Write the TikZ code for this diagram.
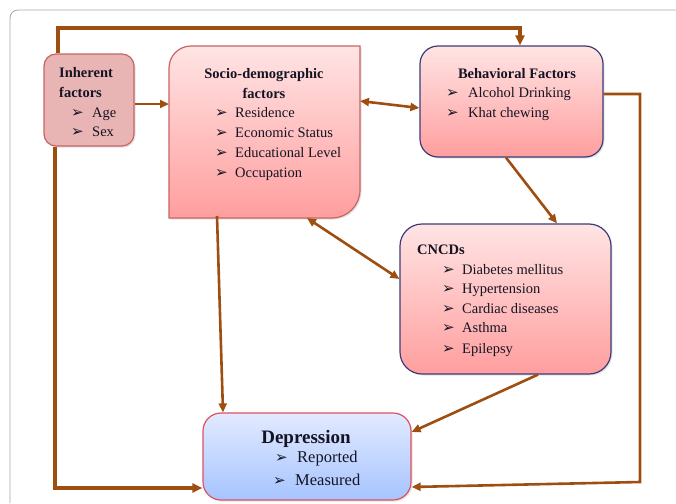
\documentclass[tikz,border=0pt]{standalone}
\usepackage{fontspec}
\setmainfont{Liberation Serif}
\newfontfamily\symf{DejaVu Sans}
\usetikzlibrary{arrows.meta,shadows}
\definecolor{brn}{RGB}{158,78,16}
\definecolor{navy}{RGB}{60,60,120}
\definecolor{redb}{RGB}{224,80,96}
\definecolor{inhfill}{RGB}{232,180,180}
\definecolor{inhdraw}{RGB}{200,100,100}
\definecolor{pinktop}{RGB}{255,228,228}
\definecolor{pinkbot}{RGB}{255,158,158}
\definecolor{bluetop}{RGB}{226,234,255}
\definecolor{bluebot}{RGB}{166,196,255}
\definecolor{txt}{RGB}{20,20,35}
\newcommand{\bul}{{\symf\fontsize{15pt}{15pt}\selectfont ➢}}
\tikzset{
  shad/.style={drop shadow={opacity=0.22,shadow xshift=1.5pt,shadow yshift=-1.5pt}},
  inhbox/.style={draw=inhdraw,line width=1.2pt,fill=inhfill,rounded corners=12pt,shad},
  pinkbox/.style={draw=navy,line width=1.2pt,top color=pinktop,bottom color=pinkbot,rounded corners=20pt,shad},
  depbox/.style={draw=redb,line width=1.2pt,top color=bluetop,bottom color=bluebot,rounded corners=18pt,shad},
  conn/.style={draw=brn,line width=2.6pt,-{Triangle[length=9pt,width=8pt]}},
  dconn/.style={draw=brn,line width=2.6pt,{Triangle[length=9pt,width=8pt]}-{Triangle[length=9pt,width=8pt]}},
  loop/.style={draw=brn,line width=3.2pt,-{Triangle[length=10pt,width=9pt]}},
  ttl/.style={font=\fontsize{14.5pt}{16pt}\selectfont\bfseries,text=txt,inner sep=0pt},
  itm/.style={font=\fontsize{14.5pt}{16pt}\selectfont,text=txt,inner sep=0pt,anchor=base west},
  bl/.style={inner sep=0pt,anchor=base west,text=txt},
}
\begin{document}
\begin{tikzpicture}[x=1pt,y=1pt]
\useasboundingbox (0,0) rectangle (676,-503);
% frame
\draw[draw=gray!70,line width=0.8pt,rounded corners=8pt] (10,-503) -- (10,-10) -- (676,-10);

% boxes
\node[inhbox,minimum width=90pt,minimum height=92pt,inner sep=0pt] (inh) at (89,-100) {};
\node[minimum width=191pt,minimum height=172pt,inner sep=0pt,outer sep=0pt] (socio) at (264.5,-132) {};
\path[draw=inhdraw,line width=1.2pt,top color=pinktop,bottom color=pinkbot,shad]
  (169,-218) -- (169,-68) arc(180:90:22) -- (360,-46) -- (360,-190) arc(0:-90:28) -- cycle;
\node[pinkbox,rounded corners=18pt,minimum width=183pt,minimum height=111pt,inner sep=0pt] (beh) at (511.5,-101.5) {};
\node[pinkbox,rounded corners=22pt,minimum width=211pt,minimum height=150pt,inner sep=0pt] (cncd) at (505.5,-299) {};
\node[depbox,minimum width=208pt,minimum height=87pt,inner sep=0pt] (dep) at (307,-456.5) {};

% texts: inherent
\node[ttl,anchor=base west] (i1) at (59,-77) {Inherent};
\node[ttl,anchor=base west] (i2) at (59,-97) {factors};
\node[bl] (ib1) at (71,-117) {\bul};
\node[itm] (i3) at (92,-117) {Age};
\node[bl] (ib2) at (71,-136) {\bul};
\node[itm] (i4) at (92,-136) {Sex};

% socio
\node[ttl,anchor=base] (s1) at (264,-78) {Socio-demographic};
\node[ttl,anchor=base] (s2) at (264,-98) {factors};
\node[bl] (sb1) at (215,-117) {\bul};
\node[itm] (s3) at (235,-117) {Residence};
\node[bl] (sb2) at (215,-137) {\bul};
\node[itm] (s4) at (235,-137) {Economic Status};
\node[bl] (sb3) at (215,-157) {\bul};
\node[itm] (s5) at (235,-157) {Educational Level};
\node[bl] (sb4) at (215,-177) {\bul};
\node[itm] (s6) at (235,-177) {Occupation};

% behavioral
\node[ttl,anchor=base] (b1) at (517,-78) {Behavioral Factors};
\node[bl] (bb1) at (446,-97) {\bul};
\node[itm] (b2) at (468,-97) {Alcohol Drinking};
\node[bl] (bb2) at (446,-117) {\bul};
\node[itm] (b3) at (468,-117) {Khat chewing};

% CNCDs
\node[ttl,anchor=base west] (c1) at (417,-254) {CNCDs};
\node[bl] (cb1) at (442,-274) {\bul};
\node[itm] (c2) at (462,-274) {Diabetes mellitus};
\node[bl] (cb2) at (442,-293) {\bul};
\node[itm] (c3) at (462,-293) {Hypertension};
\node[bl] (cb3) at (442,-313) {\bul};
\node[itm] (c4) at (462,-313) {Cardiac diseases};
\node[bl] (cb4) at (442,-332) {\bul};
\node[itm] (c5) at (462,-332) {Asthma};
\node[bl] (cb5) at (442,-353) {\bul};
\node[itm] (c6) at (462,-353) {Epilepsy};

% depression
\node[ttl,anchor=base,font=\fontsize{19pt}{21pt}\selectfont\bfseries] (d1) at (306,-443) {Depression};
\node[bl] (db1) at (275,-462) {\bul};
\node[itm,font=\fontsize{16.5pt}{18pt}\selectfont] (d2) at (297,-462) {Reported};
\node[bl] (db2) at (273,-485) {\bul};
\node[itm,font=\fontsize{16.5pt}{18pt}\selectfont] (d3) at (295,-485) {Measured};

% connector coordinates
\coordinate (tl) at (58,-28);
\coordinate (tr) at (520,-28);
\coordinate (bll) at (55,-488);
\coordinate (br1) at (640,-94);
\coordinate (br2) at (640,-482);

% connectors
\draw[loop] (inh.north -| tl) -- (tl) -- (tr) -- (beh.north -| tr);
\draw[loop] (inh.south -| bll) -- (bll) -- (bll -| dep.west);
\draw[conn] ([yshift=-4pt]inh.east) -- ([yshift=-4pt]inh.east -| socio.west);
\draw[dconn] ([yshift=31pt]socio.east) -- ([yshift=-6.5pt]beh.west);
\draw[conn] (beh.east |- br1) -- (br1) -- (br2) -- ([yshift=-30.5pt]dep.east);
\draw[conn] ([xshift=-5.5pt]beh.south) -- ([xshift=51.5pt]cncd.north);
\draw[dconn] ([xshift=42.5pt]socio.south) -- ([yshift=20pt]cncd.west);
\draw[conn] ([xshift=-47.5pt,yshift=2pt]socio.south) -- ([xshift=-84pt]dep.north);
\draw[conn] ([xshift=32.5pt]cncd.south) -- ([yshift=24.5pt]dep.east);
\end{tikzpicture}
\end{document}
